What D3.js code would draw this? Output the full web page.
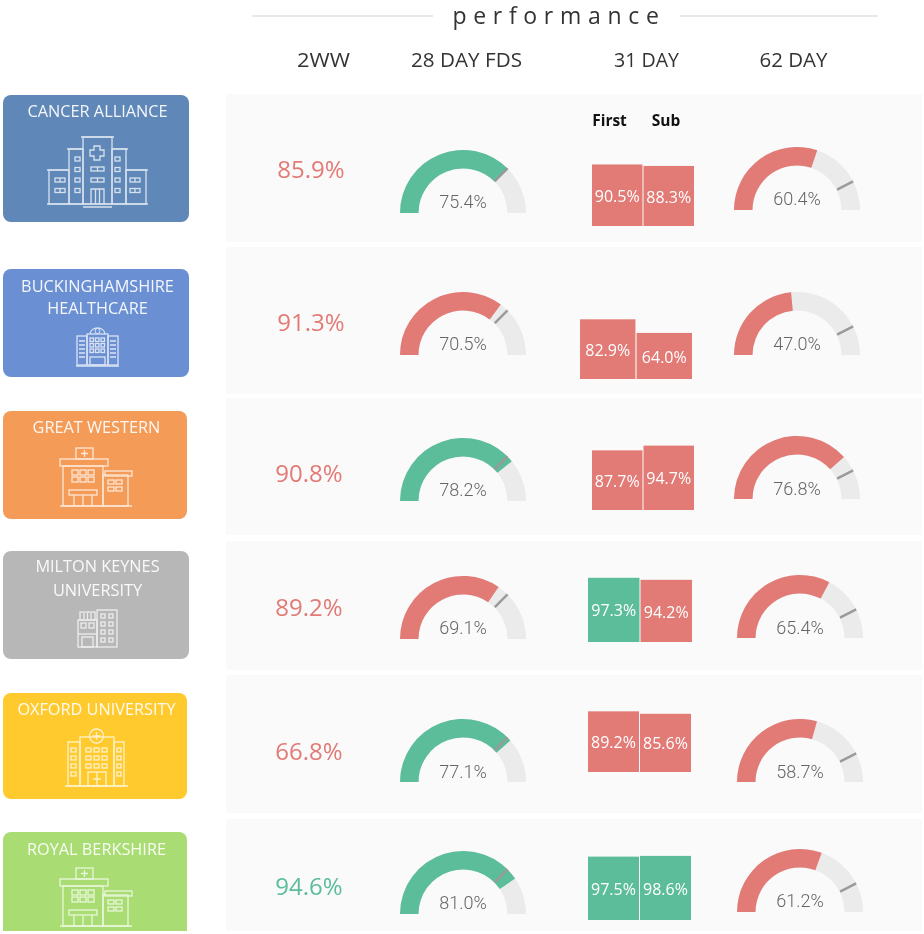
<!DOCTYPE html>
<html>
<head>
<meta charset="utf-8">
<script src="https://cdn.jsdelivr.net/npm/d3@7"></script>
<style>
	body { margin: 0; background: #fff; }
	svg { filter: blur(0.4px); }
	text { font-family: "Open Sans", sans-serif; }
	.gaugeLabel { font-family: Roboto, sans-serif; font-weight: 300; }
</style>
</head>
<body>
<div id="chart"></div>
<script>
// values
const g_trusts = ["CANCER ALLIANCE", "BUCKINGHAMSHIRE|HEALTHCARE", "GREAT WESTERN", "MILTON KEYNES|UNIVERSITY", "OXFORD UNIVERSITY", "ROYAL BERKSHIRE"];
const g_columns = ["2WW", "28 DAY FDS", "31 DAY", "62 DAY"];
const g_subColumns = ["First", "Sub"];
const g_twoWeek = [85.9, 91.3, 90.8, 89.2, 66.8, 94.6];
const g_fds = [75.4, 70.5, 78.2, 69.1, 77.1, 81.0];
const g_first = [90.5, 82.9, 87.7, 97.3, 89.2, 97.5];
const g_sub = [88.3, 64.0, 94.7, 94.2, 85.6, 98.6];
const g_day62 = [60.4, 47.0, 76.8, 65.4, 58.7, 61.2];
const g_targets = { twoWeek: 93, fds: 75, day31: 96, day62: 85 };

// layout of each row, separate from the values
const g_rows = [
	{ top: 94, bottom: 242, card: [3, 95, 186, 127], nameY: [111], twwX: 311, twwY: 170, fdsX: 463, fdsY: 213, fdsText: 202, d62X: 797, d62Y: 210, d62Text: 199, barX: [592, 694], barBase: 226, barH: 68, icon: "alliance", iconAt: [48, 135] },
	{ top: 247, bottom: 394, card: [3, 269, 186, 108], nameY: [286, 308], twwX: 311, twwY: 323, fdsX: 463, fdsY: 355, fdsText: 344, d62X: 797, d62Y: 355, d62Text: 344, barX: [580, 692], barBase: 379, barH: 72, icon: "tower", iconAt: [77, 326] },
	{ top: 398, bottom: 535, card: [3, 411, 184, 108], nameY: [427], twwX: 309, twwY: 474, fdsX: 463, fdsY: 501, fdsText: 490, d62X: 797, d62Y: 499, d62Text: 489, barX: [592, 694], barBase: 510, barH: 68, icon: "clinic", iconAt: [60, 448] },
	{ top: 541, bottom: 670, card: [3, 551, 186, 108], nameY: [566, 590], twwX: 309, twwY: 608, fdsX: 463, fdsY: 639, fdsText: 628, d62X: 800, d62Y: 638, d62Text: 628, barX: [588, 692], barBase: 642, barH: 66, icon: "blocks", iconAt: [78, 610] },
	{ top: 675, bottom: 813, card: [3, 693, 184, 106], nameY: [709], twwX: 309, twwY: 752, fdsX: 463, fdsY: 782, fdsText: 772, d62X: 800, d62Y: 782, d62Text: 772, barX: [588, 691], barBase: 772, barH: 68, icon: "dome", iconAt: [66, 728] },
	{ top: 819, bottom: 934, card: [3, 832, 184, 110], nameY: [849], twwX: 309, twwY: 887, fdsX: 463, fdsY: 914, fdsText: 903, d62X: 800, d62Y: 912, d62Text: 901, barX: [588, 691], barBase: 920, barH: 65, icon: "clinic", iconAt: [60, 868] }
];

const g_cardColors = ["#5f88b8", "#6a8fd2", "#f49b58", "#b7b7b7", "#ffca2e", "#a9dc72"];
const GREEN = "#5cbd9b", RED = "#e27a76", TRACK = "#ebebeb";

const svg = d3.select("#chart").append("svg").attr("width", 924).attr("height", 934);

function status(value, target){
	return value >= target ? GREEN : RED;
}

function drawHeader(){
	svg.append("text").attr("x", 559).attr("y", 24)
		.attr("text-anchor", "middle")
		.attr("font-size", 23).attr("letter-spacing", 6.7).attr("fill", "#333")
		.text("performance");
	[[252, 433], [680, 878]].forEach(function(d){
		svg.append("line").attr("x1", d[0]).attr("x2", d[1]).attr("y1", 16).attr("y2", 16)
			.attr("stroke", "#e8e8e8").attr("stroke-width", 2);
	});
	const colX = [323.5, 466.5, 646.5, 793.5];
	const colW = [53, 111, 65, 68];
	g_columns.forEach(function(c, i){
		svg.append("text").attr("x", colX[i]).attr("y", 67)
			.attr("text-anchor", "middle").attr("font-size", 20.5).attr("fill", "#333")
			.attr("textLength", colW[i]).attr("lengthAdjust", "spacingAndGlyphs")
			.text(c);
	});
	const subX = [609.5, 666];
	g_subColumns.forEach(function(c, i){
		svg.append("text").attr("x", subX[i]).attr("y", 126)
			.attr("text-anchor", "middle").attr("font-size", 15.5).attr("font-weight", 700).attr("fill", "#111")
			.text(c);
	});
}

function outline(g, rects){
	g.selectAll(null).data(rects).enter().append("rect")
		.attr("x", d => d[0]).attr("y", d => d[1]).attr("width", d => d[2]).attr("height", d => d[3])
		.attr("fill", "none").attr("stroke", "#fff").attr("stroke-width", 1.3);
}

function grid(x, y, cols, rows, stepX, stepY, w, h){
	let cells = [];
	for (let i = 0; i < cols; i++){
		for (let j = 0; j < rows; j++){
			cells.push([x + i * stepX, y + j * stepY, w, h]);
		}
	}
	return cells;
}

function stroke(g, d){
	g.append("path").attr("d", d).attr("fill", "none").attr("stroke", "#fff").attr("stroke-width", 1.3);
}

// building glyphs, drawn in their own local coordinates
const g_icons = {
	alliance: function(g){
		outline(g, [[35, 2, 29, 67], [21, 14, 14, 55], [64, 14, 14, 55], [1, 35, 20, 34], [78, 35, 20, 34]]);
		stroke(g, "M33 2H66M19 14H35M64 14H80M-1 35H21M78 35H100M-1 69H100M35 72H64M43 69V54H56V69M47.5 54V69M51.5 54V69");
		stroke(g, "M46 11H52V15H56V21H52V25H46V21H42V15H46Z");
		outline(g, grid(27, 22, 1, 4, 0, 10.5, 5, 4).concat(grid(67, 22, 1, 4, 0, 10.5, 5, 4), grid(7, 43, 1, 2, 0, 10.5, 10, 4), grid(82, 43, 1, 2, 0, 10.5, 10, 4), grid(43, 32, 1, 2, 0, 11, 13, 4)));
		stroke(g, "M12 43V47M12 53.5V57.5M87 43V47M87 53.5V57.5M49.5 32V36M49.5 43V47");
	},
	tower: function(g){
		outline(g, [[10, 8, 21, 31], [0, 10, 10, 29], [31, 10, 10, 29]]);
		stroke(g, "M-1 40H42M13 8C14 0 27 0 28 8M2 15H8M2 19H8M2 23H8M2 27H8M2 31H8M33 15H39M33 19H39M33 23H39M33 27H39M33 31H39");
		g.append("circle").attr("cx", 20.5).attr("cy", 5).attr("r", 2.5).attr("fill", "none").attr("stroke", "#fff");
		outline(g, grid(13, 12, 3, 3, 5.5, 5.5, 3.5, 3.5).concat([[13, 31, 15, 8]]));
	},
	clinic: function(g){
		outline(g, [[16, 0, 17, 11], [0, 11, 48, 7], [3, 18, 40, 40], [43, 27, 25, 31], [45, 23, 27, 5], [9, 42, 28, 5]]);
		stroke(g, "M0 58H72M24.5 2V9M21 5.5H28M14 47V58M23 47V58M32 47V58");
		outline(g, grid(12, 22, 3, 2, 8, 7, 6, 5).concat(grid(48, 32, 2, 2, 8, 7, 6, 4)));
	},
	blocks: function(g){
		outline(g, [[0, 10, 19, 27], [2, 2, 15, 8], [19, 0, 20, 37]]);
		stroke(g, "M0 24H19");
		outline(g, grid(3, 13, 2, 1, 8, 7, 5, 5).concat(grid(23, 4, 2, 4, 8, 8, 4, 4), [[4, 27, 11, 10]]));
		stroke(g, "M6 3V9M9.5 3V9M13 3V9");
	},
	dome: function(g){
		outline(g, [[14, 9, 34, 49], [2, 14, 12, 44], [48, 14, 10, 44], [22, 44, 18, 14]]);
		stroke(g, "M-1 58H62M31 44V58M27 51H35");
		g.append("circle").attr("cx", 30.5).attr("cy", 8).attr("r", 7).attr("fill", "none").attr("stroke", "#fff").attr("stroke-width", 1.3);
		stroke(g, "M30.5 4V12M26.5 8H34.5");
		outline(g, grid(20, 20, 3, 3, 8, 8, 5, 4).concat(grid(5, 20, 1, 4, 0, 8, 5, 4), grid(51, 20, 1, 4, 0, 8, 4, 4)));
	}
};

function drawCard(row, name, color){
	const c = row.card;
	svg.append("rect").attr("x", c[0]).attr("y", c[1]).attr("width", c[2]).attr("height", c[3])
		.attr("rx", 8).attr("fill", color);
	name.split("|").forEach(function(line, i){
		svg.append("text").attr("x", c[0] + c[2] / 2 + 1.5).attr("y", row.nameY[i])
			.attr("dy", "0.35em").attr("text-anchor", "middle")
			.attr("font-size", 16.3).attr("fill", "#fff").attr("opacity", 0.92)
			.text(line);
	});
	const g = svg.append("g").attr("transform", `translate(${row.iconAt[0]},${row.iconAt[1]})`).attr("opacity", 0.75);
	g_icons[row.icon](g);
}

const angle = d3.scaleLinear().domain([0, 100]).range([-Math.PI / 2, Math.PI / 2]);
const arc = d3.arc().innerRadius(44.5).outerRadius(63);

function drawGauge(cx, cy, textY, value, target){
	const g = svg.append("g").attr("transform", `translate(${cx},${cy})`);
	g.append("path").attr("fill", TRACK).attr("d", arc({ startAngle: angle(0), endAngle: angle(100) }));
	g.append("path").attr("fill", status(value, target)).attr("d", arc({ startAngle: angle(0), endAngle: angle(value) }));
	const a = angle(target);
	g.append("line")
		.attr("x1", 45 * Math.sin(a)).attr("y1", -45 * Math.cos(a))
		.attr("x2", 63 * Math.sin(a)).attr("y2", -63 * Math.cos(a))
		.attr("stroke", "#9a9a9a").attr("stroke-width", 2.4);
	g.append("text").attr("class", "gaugeLabel").attr("y", textY - cy).attr("dy", "0.35em")
		.attr("text-anchor", "middle").attr("font-size", 18).attr("fill", "#666")
		.text(value.toFixed(1) + "%");
}

function drawBars(row, i){
	const vals = [g_first[i], g_sub[i]];
	const x = d3.scaleBand().domain(g_subColumns).range(row.barX).paddingInner(0.02);
	const y = d3.scaleLinear().domain([0, 100]).range([row.barBase, row.barBase - row.barH]);
	const g = svg.append("g");
	g.selectAll("rect").data(vals).enter().append("rect")
		.attr("x", (d, k) => x(g_subColumns[k]))
		.attr("y", d => y(d))
		.attr("width", x.bandwidth())
		.attr("height", d => row.barBase - y(d))
		.attr("fill", d => status(d, g_targets.day31));
	g.selectAll("text").data(vals).enter().append("text")
		.attr("x", (d, k) => x(g_subColumns[k]) + x.bandwidth() / 2)
		.attr("y", d => (y(d) + row.barBase) / 2 + 1)
		.attr("dy", "0.35em").attr("text-anchor", "middle")
		.attr("font-size", 16).attr("fill", "#fff")
		.text(d => d.toFixed(1) + "%");
}

g_rows.forEach(function(row, i){
	svg.append("rect").attr("x", 226).attr("y", row.top).attr("width", 696).attr("height", row.bottom - row.top).attr("fill", "#fafafa");
	drawCard(row, g_trusts[i], g_cardColors[i]);
	svg.append("text").attr("x", row.twwX).attr("y", row.twwY).attr("dy", "0.35em")
		.attr("text-anchor", "middle").attr("font-size", 24)
		.attr("fill", status(g_twoWeek[i], g_targets.twoWeek))
		.text(g_twoWeek[i].toFixed(1) + "%");
	drawGauge(row.fdsX, row.fdsY, row.fdsText, g_fds[i], g_targets.fds);
	drawBars(row, i);
	drawGauge(row.d62X, row.d62Y, row.d62Text, g_day62[i], g_targets.day62);
});
drawHeader();

// the picture stops just above the window edge
svg.append("rect").attr("x", 0).attr("y", 931).attr("width", 924).attr("height", 3).attr("fill", "#fff");
</script>
</body>
</html>
